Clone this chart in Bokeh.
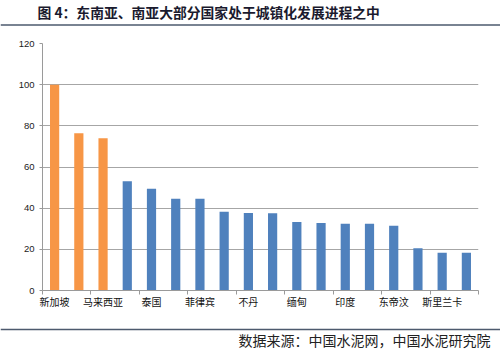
from bokeh.plotting import figure
from bokeh.layouts import column
from bokeh.models import Range1d, FixedTicker, Label
from bokeh.embed import file_html
from bokeh.resources import INLINE

countries = ["新加坡", "文莱", "马来西亚", "印度尼西亚", "泰国", "马尔代夫", "菲律宾", "越南",
             "不丹", "巴基斯坦", "缅甸", "老挝", "印度", "孟加拉国", "东帝汶", "柬埔寨",
             "斯里兰卡", "尼泊尔"]
urban_rate = [100, 76.4, 74.0, 53.1, 49.4, 44.6, 44.6, 38.2, 37.7, 37.5, 33.3, 32.8,
              32.4, 32.4, 31.4, 20.5, 18.3, 18.3]
y_ticks = [0, 20, 40, 60, 80, 100, 120]
title_text = "图 4：东南亚、南亚大部分国家处于城镇化发展进程之中"
source_text = "数据来源：中国水泥网，中国水泥研究院"

ORANGE = "#F79646"
BLUE = "#4F81BD"
RULE = "#4d5a6e"
CJK = "Noto Sans CJK SC"
W = 500


def blank_fig(h):
    f = figure(width=W, height=h, output_backend="svg", toolbar_location=None,
               x_range=Range1d(0, W), y_range=Range1d(h, 0),
               x_axis_type=None, y_axis_type=None, min_border=0)
    f.outline_line_color = None
    f.grid.grid_line_color = None
    f.background_fill_color = "white"
    f.border_fill_color = "white"
    return f


# ---- title strip ----
TH = 27
ft = blank_fig(TH)
ft.add_layout(Label(x=37, y=11, text=title_text, text_font=CJK, text_font_size="13.8px",
                    text_font_style="bold", text_color="#1a1a2e",
                    text_baseline="middle", text_align="left"))
ft.line(x=[0, W], y=[24.5, 24.5], line_color=RULE, line_width=1.6)

# ---- main chart ----
MH = 298
p = figure(width=W, height=MH, output_backend="svg", toolbar_location=None,
           x_range=Range1d(0, len(countries)), y_range=Range1d(0, 120),
           min_border_left=42, min_border_right=22, min_border_top=16, min_border_bottom=35)
p.outline_line_color = None
p.background_fill_color = "white"
p.border_fill_color = "white"

xs = [i + 0.5 for i in range(len(countries))]
colors = [ORANGE if i < 3 else BLUE for i in range(len(countries))]
p.vbar(x=xs, top=urban_rate, width=0.38, fill_color=colors, line_color=None)

p.yaxis.ticker = FixedTicker(ticks=y_ticks)
p.yaxis.axis_line_color = "#9a9a9a"
p.yaxis.major_tick_line_color = "#9a9a9a"
p.yaxis.major_tick_out = 3
p.yaxis.major_tick_in = 0
p.yaxis.minor_tick_line_color = None
p.yaxis.major_label_standoff = 5
p.yaxis.major_label_text_font = "Liberation Sans"
p.yaxis.major_label_text_font_size = "9.5px"
p.yaxis.major_label_text_color = "#222222"
p.ygrid.grid_line_color = "#a6a6a6"
p.ygrid.ticker = FixedTicker(ticks=y_ticks)
p.xgrid.grid_line_color = None

label_pos = xs[::2]
p.xaxis.ticker = FixedTicker(ticks=label_pos, minor_ticks=list(range(0, len(countries) + 1, 2)))
p.xaxis.major_label_overrides = {xs[i]: countries[i] for i in range(0, len(countries), 2)}
p.xaxis.major_tick_line_color = None
p.xaxis.minor_tick_line_color = "#9a9a9a"
p.xaxis.minor_tick_out = 4
p.xaxis.minor_tick_in = 0
p.xaxis.axis_line_color = "#9a9a9a"
p.xaxis.major_label_standoff = -3
p.xaxis.major_label_text_font = CJK
p.xaxis.major_label_text_font_size = "10px"
p.xaxis.major_label_text_color = "#111111"

# ---- source strip ----
FH = 361 - TH - MH
fs = blank_fig(FH)
fs.line(x=[0, W], y=[4, 4], line_color=RULE, line_width=1.6)
fs.add_layout(Label(x=490, y=14, text=source_text, text_font=CJK, text_font_size="14px",
                    text_color="#222222", text_baseline="middle", text_align="right"))

layout = column(column(ft), p, column(fs), spacing=0)
open("out.html", "w").write(file_html(layout, INLINE))
